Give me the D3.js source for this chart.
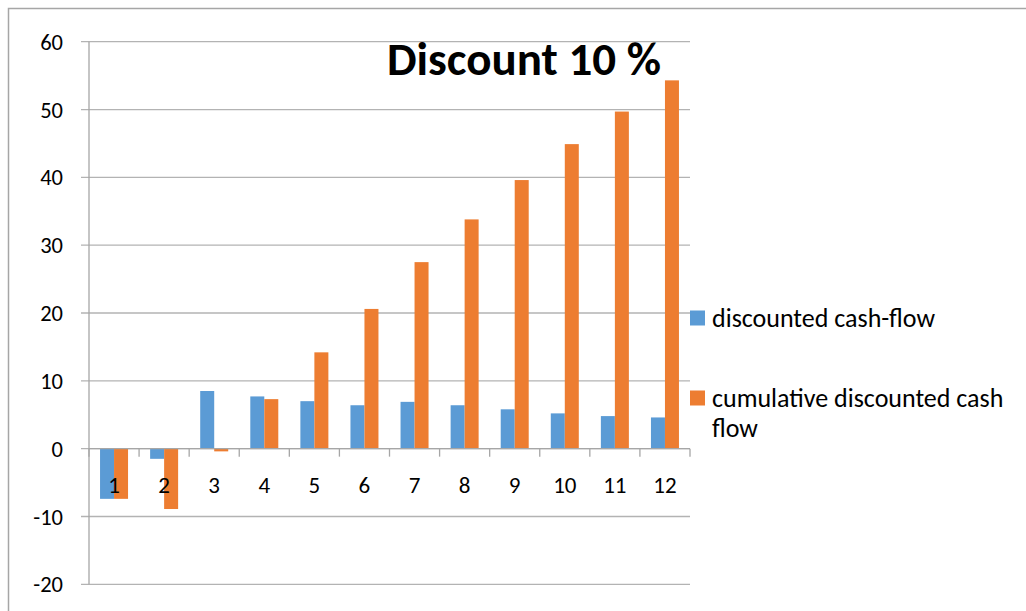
<!DOCTYPE html>
<html>
<head>
<meta charset="utf-8">
<script src="https://cdn.jsdelivr.net/npm/d3@7"></script>
<style>
  body { margin: 0; background: #fff; }
  svg { display: block; font-family: Carlito, Lato, "Noto Sans", sans-serif; }
</style>
</head>
<body>
<div class="container"></div>
<script>
/********** the Data **********/
let years = ["1", "2", "3", "4", "5", "6", "7", "8", "9", "10", "11", "12"];
let discounted = [-7.4, -1.5, 8.5, 7.7, 7.0, 6.4, 6.9, 6.4, 5.8, 5.2, 4.8, 4.6];
let cumulative = [-7.4, -8.9, -0.4, 7.3, 14.2, 20.6, 27.5, 33.8, 39.6, 44.9, 49.7, 54.3];
let yTicks = [-20, -10, 0, 10, 20, 30, 40, 50, 60];
let seriesNames = ["discounted cash-flow", "cumulative discounted cash flow"];
let colors = ["#5b9bd5", "#ed7d31"];

/***** chart dimensions *****/
let width = 1026, height = 611;
let plot = {left: 89, right: 690, top: 41.7, bottom: 584.3};

let svg = d3.select(".container").append("svg")
  .attr("width", width)
  .attr("height", height);

// outer chart border (runs off the right/bottom edges)
svg.append("rect")
  .attr("x", 8.5).attr("y", 8.5)
  .attr("width", 1100).attr("height", 700)
  .attr("fill", "none")
  .attr("stroke", "#a6a6a6")
  .attr("stroke-width", 1.5);

/***** scales *****/
let xScale = d3.scaleBand()
  .domain(years)
  .range([plot.left, plot.right]);

let yScale = d3.scaleLinear()
  .domain([-20, 60])
  .range([plot.bottom, plot.top]);

let barW = 14;

/***** gridlines + y axis labels *****/
let grid = svg.append("g").attr("class", "grid");
grid.selectAll("line")
  .data(yTicks)
  .join("line")
    .attr("x1", plot.left - 8)
    .attr("x2", plot.right)
    .attr("y1", d => yScale(d))
    .attr("y2", d => yScale(d))
    .attr("stroke", "#b3b3b3")
    .attr("stroke-width", 1.3);

svg.append("g").selectAll("text")
  .data(yTicks)
  .join("text")
    .attr("x", 63)
    .attr("y", d => yScale(d))
    .attr("dy", "0.36em")
    .attr("text-anchor", "end")
    .attr("font-size", 22.5)
    .attr("fill", "#000")
    .text(d => d);

// y axis line
svg.append("line")
  .attr("x1", plot.left).attr("x2", plot.left)
  .attr("y1", plot.top).attr("y2", plot.bottom)
  .attr("stroke", "#a6a6a6").attr("stroke-width", 1.3);

/***** bars *****/
let series = [discounted, cumulative];
series.forEach((vals, s) => {
  svg.append("g").selectAll("rect")
    .data(vals)
    .join("rect")
      .attr("x", (d, i) => xScale.bandwidth() / 2 + xScale(years[i]) - barW + s * barW)
      .attr("y", d => yScale(Math.max(0, d)))
      .attr("width", barW)
      .attr("height", d => Math.abs(yScale(d) - yScale(0)))
      .attr("fill", colors[s]);
});

/***** x axis at zero *****/
let y0 = yScale(0);
svg.append("line")
  .attr("x1", plot.left).attr("x2", plot.right)
  .attr("y1", y0).attr("y2", y0)
  .attr("stroke", "#a6a6a6").attr("stroke-width", 1.3);

svg.append("g").selectAll("line")
  .data(years.concat(["end"]))
  .join("line")
    .attr("x1", (d, i) => plot.left + i * xScale.bandwidth())
    .attr("x2", (d, i) => plot.left + i * xScale.bandwidth())
    .attr("y1", y0).attr("y2", y0 + 8)
    .attr("stroke", "#a6a6a6").attr("stroke-width", 1.3);

svg.append("g").selectAll("text")
  .data(years)
  .join("text")
    .attr("x", d => xScale(d) + xScale.bandwidth() / 2)
    .attr("y", y0 + 36)
    .attr("dy", "0.36em")
    .attr("text-anchor", "middle")
    .attr("font-size", 23)
    .attr("fill", "#000")
    .text(d => d);

/***** title *****/
svg.append("text")
  .attr("x", 524)
  .attr("y", 75)
  .attr("text-anchor", "middle")
  .attr("font-size", 47)
  .attr("font-weight", "bold")
  .attr("fill", "#000")
  .text("Discount 10 %");

/***** legend *****/
let legend = svg.append("g").attr("class", "legend");
let legendY = [318, 398];
legend.selectAll("rect")
  .data(seriesNames)
  .join("rect")
    .attr("x", 690)
    .attr("y", (d, i) => legendY[i] - 7.5)
    .attr("width", 15).attr("height", 15)
    .attr("fill", (d, i) => colors[i]);

legend.append("text")
  .attr("x", 712).attr("y", legendY[0]).attr("dy", "0.36em")
  .attr("font-size", 26)
  .text(seriesNames[0]);

let t2 = legend.append("text")
  .attr("x", 712).attr("y", legendY[1]).attr("dy", "0.36em")
  .attr("font-size", 26);
t2.append("tspan").text("cumulative discounted cash");
t2.append("tspan").attr("x", 712).attr("dy", 30).text("flow");
</script>
</body>
</html>
